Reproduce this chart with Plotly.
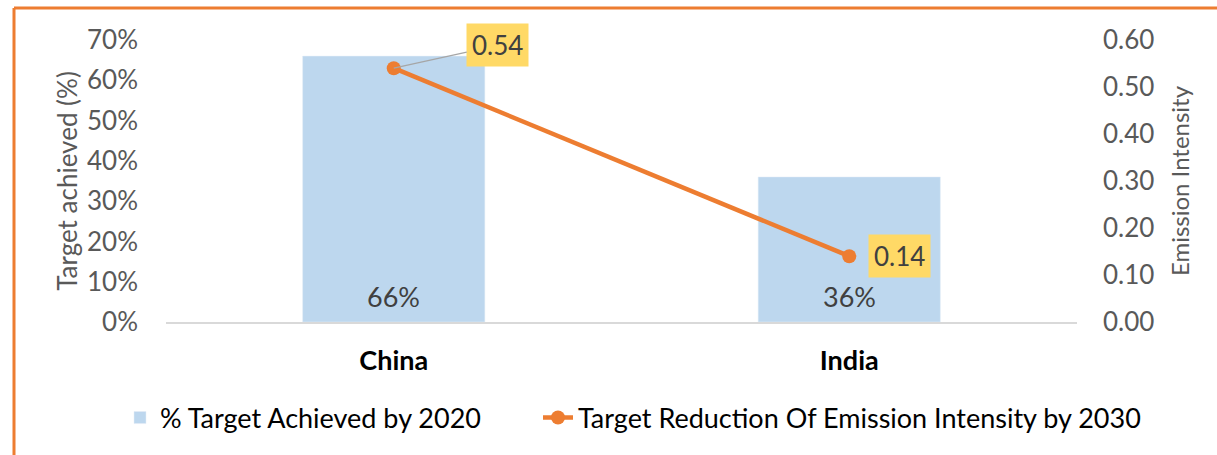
import plotly.graph_objects as go

categories = ["China", "India"]
target_achieved = [0.66, 0.36]
emission_intensity = [0.54, 0.14]
bar_name = "% Target Achieved by 2020"
line_name = "Target Reduction Of Emission Intensity by 2030"

FONT = "Lato, 'Open Sans', sans-serif"

W, H = 1217, 455
L, R, T, B = 166, 140, 40, 133
pw, ph = W - L - R, H - T - B
def px(x):
    return (x - L) / pw
def py(y):
    return (H - B - y) / ph

fig = go.Figure()
fig.add_trace(go.Bar(
    x=categories, y=target_achieved, name=bar_name,
    marker=dict(color="#BDD7EE"),
    yaxis="y", legend="legend",
))
fig.add_trace(go.Scatter(
    x=categories, y=emission_intensity, name=line_name,
    mode="lines+markers",
    line=dict(color="#ED7D31", width=4.5),
    marker=dict(size=14, color="#ED7D31"),
    yaxis="y2", legend="legend2",
))

# bar value labels (at bar base)
for c, v in zip(categories, target_achieved):
    fig.add_annotation(x=c, y=0, xref="x", yref="y", text=f"{v:.0%}",
                       showarrow=False, yanchor="middle", yshift=26,
                       font=dict(size=27, color="#404040", family=FONT))

# line data labels
fig.add_annotation(
    x=categories[0], y=emission_intensity[0], xref="x", yref="y2",
    text=f"{emission_intensity[0]:.2f}", showarrow=True, arrowhead=0,
    arrowcolor="#A6A6A6", arrowwidth=1.2, ax=104, ay=-23,
    bgcolor="#FFD966", borderpad=5,
    font=dict(size=26, color="#404040", family=FONT),
)
fig.add_annotation(
    x=categories[1], y=emission_intensity[1], xref="x", yref="y2",
    text=f"{emission_intensity[1]:.2f}", showarrow=False,
    xshift=50, bgcolor="#FFD966", borderpad=5,
    font=dict(size=26, color="#404040", family=FONT),
)

# orange frame (left and top)
fig.add_shape(type="line", xref="paper", yref="paper",
              x0=px(14), x1=px(1230), y0=py(8), y1=py(8),
              line=dict(color="#ED7D31", width=3))
fig.add_shape(type="line", xref="paper", yref="paper",
              x0=px(14), x1=px(14), y0=py(8), y1=py(470),
              line=dict(color="#ED7D31", width=3))

legend_common = dict(orientation="h", yanchor="middle", xanchor="left",
                     bgcolor="rgba(0,0,0,0)",
                     font=dict(size=27, color="#000000", family=FONT))
fig.update_layout(
    width=W, height=H,
    margin=dict(l=L, r=R, t=T, b=B),
    paper_bgcolor="white", plot_bgcolor="white",
    font=dict(family=FONT, color="#595959", size=24),
    bargap=0.6,
    showlegend=True,
    legend=dict(x=px(120), y=py(418), **legend_common),
    legend2=dict(x=px(538), y=py(418), **legend_common),
    xaxis=dict(showline=True, linecolor="#D9D9D9", linewidth=1.5,
               tickfont=dict(size=27, color="#000000", family=FONT, weight="bold"),
               ticklabelstandoff=14, showgrid=False, ticks=""),
    yaxis=dict(range=[0, 0.7], dtick=0.1, tickformat=".0%", showgrid=False,
               zeroline=False, title=dict(text="Target achieved (%)", standoff=1,
                                          font=dict(size=26, color="#595959")),
               tickfont=dict(size=26, color="#595959"), ticklabelstandoff=27),
    yaxis2=dict(range=[0, 0.6], dtick=0.1, tickformat=".2f", overlaying="y", side="right",
                showgrid=False, zeroline=False,
                title=dict(text="Emission Intensity", standoff=18,
                           font=dict(size=24, color="#595959")),
                tickfont=dict(size=26, color="#595959"), ticklabelstandoff=25),
)

fig.write_html("out.html")
